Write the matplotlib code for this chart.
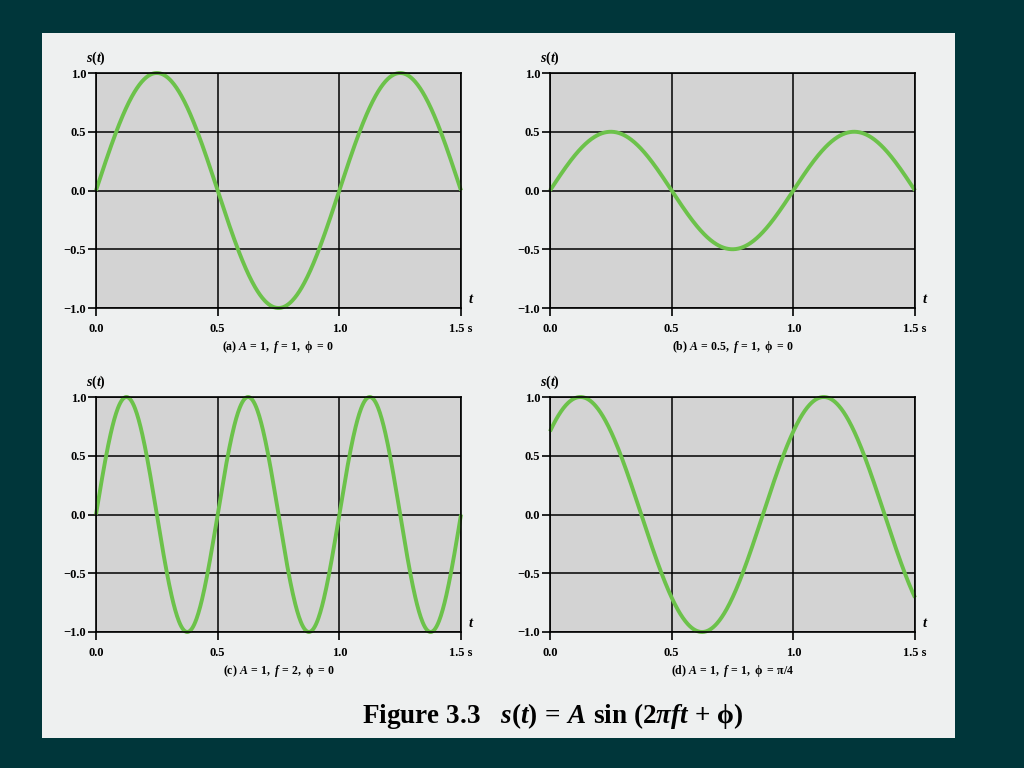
import numpy as np
import matplotlib
matplotlib.use('Agg')
import matplotlib.pyplot as plt
from matplotlib.patches import Rectangle

# signal parameters for the four panels
letters = ['a', 'b', 'c', 'd']
amps = [1, 0.5, 1, 1]
freqs = [1, 1, 2, 1]
phases = [0, 0, 0, np.pi / 4]
phase_text = ['0', '0', '0', 'π/4']
amp_text = ['1', '0.5', '1', '1']
freq_text = ['1', '1', '2', '1']

xticks = [0.0, 0.5, 1.0, 1.5]
xticklabels = ['0.0', '0.5', '1.0', '1.5 s']
yticks = [-1.0, -0.5, 0.0, 0.5, 1.0]
yticklabels = ['\u22121.0', '\u22120.5', '0.0', '0.5', '1.0']

plt.rcParams.update({
    'font.family': 'Liberation Serif',
    'font.weight': 'bold',
    'mathtext.fontset': 'custom',
    'mathtext.rm': 'Liberation Serif:bold',
    'mathtext.it': 'Liberation Serif:bold:italic',
    'mathtext.bf': 'Liberation Serif:bold',
})

bg = '#00363a'
panel = '#eef0f0'
face = '#d3d3d3'
green = '#6cc24a'

fig = plt.figure(figsize=(10.24, 7.68), dpi=100, facecolor=bg)
fig.patches.append(Rectangle((42 / 1024, 1 - 738 / 768), 913 / 1024, 705 / 768,
                             transform=fig.transFigure, facecolor=panel,
                             edgecolor='none', zorder=-10))

lefts = [96, 550, 96, 550]
tops = [73, 73, 397, 397]
w, h = 365, 235

t = np.linspace(0, 1.5, 600)
for i in range(4):
    ax = fig.add_axes([lefts[i] / 1024, 1 - (tops[i] + h) / 768, w / 1024, h / 768])
    ax.set_facecolor(face)
    s = amps[i] * np.sin(2 * np.pi * freqs[i] * t + phases[i])
    ax.plot(t, s, color=green, lw=2.8, zorder=3, solid_capstyle='butt', clip_on=False)
    ax.set_xlim(0, 1.5)
    ax.set_ylim(-1, 1)
    ax.set_xticks(xticks)
    ax.set_xticklabels(xticklabels)
    ax.set_yticks(yticks)
    ax.set_yticklabels(yticklabels)
    ax.grid(True, color='black', lw=1.1, zorder=1)
    ax.set_axisbelow(True)
    for sp in ax.spines.values():
        sp.set_linewidth(1.2)
        sp.set_color('black')
        sp.set_zorder(4)
    ax.tick_params(axis='both', direction='out', length=6, width=1.2,
                   labelsize=9, pad=5)
    ax.tick_params(axis='y', pad=1)
    for lab in ax.get_xticklabels() + ax.get_yticklabels():
        lab.set_fontweight('bold')
    ax.text(0, 1.064, r'$s\mathrm{(}t\mathrm{)}$', transform=ax.transAxes,
            ha='center', va='center', fontsize=10)
    ax.text(1.02, 0.01, r'$t$', transform=ax.transAxes,
            ha='left', va='bottom', fontsize=10.5)
    cap = (r'$\mathrm{(' + letters[i] + r')}\ A\,\mathrm{=}\,\mathrm{' + amp_text[i] +
           r',}\ f\,\mathrm{=}\,\mathrm{' + freq_text[i] + r',\ ϕ}\ \mathrm{=}\,\mathrm{' +
           phase_text[i] + r'}$')
    ax.text(0.5, -0.166, cap, transform=ax.transAxes, ha='center', va='center',
            fontsize=8.5)

fig.text(0.54, 1 - 716 / 768,
         r'$\mathrm{Figure\ 3.3\quad}s\mathrm{(}t\mathrm{)}\,\mathrm{=}\,A\ \mathrm{sin\ (2}\pi ft\ \mathrm{+}\ \mathrm{ϕ)}$',
         ha='center', va='center', fontsize=19.5)

fig.savefig('out.png', dpi=100, facecolor=bg)
